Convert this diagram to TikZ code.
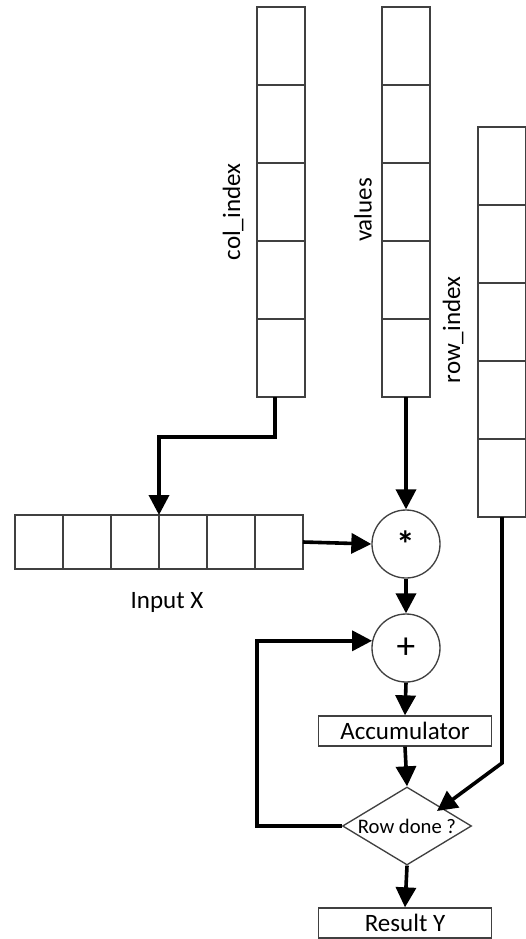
\documentclass[tikz,border=0pt]{standalone}
\usepackage{fontspec}
\setmainfont{Carlito}
\usetikzlibrary{arrows.meta,shapes.geometric,calc}
\begin{document}
\begin{tikzpicture}[x=0.75pt,y=-0.75pt,
  thin line/.style={draw=black!75,line width=1pt},
  cellv/.style={thin line,minimum width=36pt,minimum height=58.5pt,inner sep=0,outer sep=0},
  cellh/.style={thin line,minimum width=36pt,minimum height=40.5pt,inner sep=0,outer sep=0},
  op/.style={circle,thin line,minimum size=51pt,inner sep=0,font=\fontsize{28}{30}\selectfont},
  blk/.style={thin line,minimum width=130pt,minimum height=22.5pt,inner sep=0,font=\fontsize{18.75}{20}\selectfont},
  decision/.style={diamond,thin line,minimum width=96.75pt,minimum height=58.5pt,inner sep=0,font=\fontsize{15.5}{17}\selectfont},
  lbl/.style={font=\fontsize{18.75}{20}\selectfont,inner sep=0},
  arr/.style={line width=2.7pt,-{Triangle[length=15pt,width=15pt]}},
]
\useasboundingbox (0,0) rectangle (525,939);

% column arrays
\foreach \i in {1,...,5} {
  \node[cellv] (ci\i) at (281,{7+78*(\i-0.5)}) {};
  \node[cellv] (va\i) at (406,{7+78*(\i-0.5)}) {};
  \node[cellv] (ri\i) at (502,{127+78*(\i-0.5)}) {};
}
\node[lbl,rotate=90] (lci) at (233,212) {col\_index};
\node[lbl,rotate=90] (lva) at (363,210) {values};
\node[lbl,rotate=90] (lri) at (453,330) {row\_index};

% input vector
\foreach \i in {1,...,6}
  \node[cellh] (x\i) at ({15+48*(\i-0.5)},542) {};
\node[lbl] (lx) at (167,602) {Input X};

% datapath
\node[op] (star) at (406,544) {\raisebox{-0.22em}{\bfseries *}};
\node[op] (plus) at (406,648) {+};
\node[blk] (acc) at (405,731) {Accumulator};
\node[decision] (dec) at (407,826) {\makebox[0pt]{Row done ?}};
\node[blk] (res) at (405,923) {Result Y};

% connectors
\coordinate (cb) at (275,437);
\draw[arr] (ci5.south -| cb) -- (cb) -| (x3.north east);
\draw[arr] (va5.south) -- (star.north);
\draw[arr] (x6.east) -- (star.west);
\draw[arr] (star.south) -- (plus.north);
\draw[arr] (plus.south) -- (acc.north);
\draw[arr] (acc.south) -- (dec.north);
\draw[arr] (dec.south) -- (res.north);
\coordinate (lp) at (257,0);
\draw[arr] (dec.west) -| (lp |- plus.168) -- (plus.168);
\coordinate (rb) at (502,763);
\coordinate (rt) at ($(dec.center)+(30,-15)$);
\draw[arr] (ri5.south) -- (rb) -- (rt);
\end{tikzpicture}
\end{document}
